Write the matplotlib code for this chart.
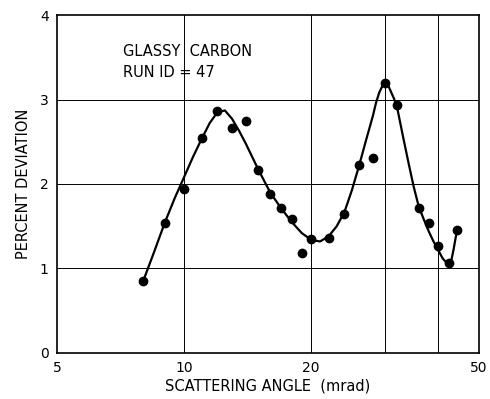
import matplotlib
matplotlib.use("Agg")
import matplotlib.pyplot as plt

# measured points
angle = [8, 9, 10, 11, 12, 13, 14, 15, 16, 17, 18, 19, 20, 22, 24, 26, 28, 30, 32, 36, 38, 40, 42.4, 44.4]
deviation = [0.85, 1.54, 1.94, 2.55, 2.86, 2.66, 2.75, 2.17, 1.88, 1.72, 1.58, 1.18, 1.35, 1.36, 1.65, 2.22, 2.31, 3.19, 2.93, 1.72, 1.54, 1.27, 1.07, 1.45]

# hand-drawn smooth curve
curve_x = [8, 8.5, 9, 9.5, 10, 10.5, 11, 11.5, 12, 12.5, 13, 13.5, 14, 15, 16, 17, 18, 19, 20, 21, 22, 23, 24, 25, 26, 27, 28, 28.5, 29, 29.5, 30, 30.5, 31, 31.5, 32, 33, 34, 35, 36, 37, 38, 39, 40, 41, 42, 42.5, 43, 43.5, 44, 44.4]
curve_y = [0.85, 1.20, 1.54, 1.83, 2.08, 2.32, 2.53, 2.72, 2.85, 2.87, 2.77, 2.63, 2.48, 2.17, 1.90, 1.71, 1.55, 1.42, 1.34, 1.32, 1.38, 1.50, 1.67, 1.93, 2.22, 2.52, 2.80, 2.96, 3.08, 3.16, 3.19, 3.16, 3.08, 3.00, 2.90, 2.57, 2.26, 1.97, 1.73, 1.58, 1.44, 1.32, 1.22, 1.12, 1.06, 1.05, 1.10, 1.22, 1.36, 1.45]

xticks = [5, 10, 20, 50]
yticks = [0, 1, 2, 3, 4]
vgrid = [10, 20, 30, 40]
hgrid = [1, 2, 3]

fig = plt.figure(figsize=(4.9, 3.99), dpi=100)
ax = fig.add_axes([0.1163, 0.1153, 0.8613, 0.8471])
ax.set_xscale("log")
ax.set_xlim(5, 50)
ax.set_ylim(0, 4)

for v in vgrid:
    ax.axvline(v, color="black", lw=0.7, zorder=1)
for h in hgrid:
    ax.axhline(h, color="black", lw=0.7, zorder=1)

ax.plot(curve_x, curve_y, color="black", lw=1.6, zorder=2)
ax.plot(angle, deviation, "o", color="black", ms=6, zorder=3)

ax.set_xticks(xticks)
ax.set_xticklabels([str(t) for t in xticks])
ax.xaxis.set_minor_locator(matplotlib.ticker.NullLocator())
ax.set_yticks(yticks)
ax.set_yticklabels([str(t) for t in yticks])
ax.tick_params(length=0, labelsize=10, pad=6)
for s in ax.spines.values():
    s.set_linewidth(1.2)

ax.set_xlabel("SCATTERING ANGLE  (mrad)", fontsize=10.5, labelpad=2)
ax.set_ylabel("PERCENT DEVIATION", fontsize=10.5, labelpad=6)

ax.text(0.156, 0.893, "GLASSY  CARBON", transform=ax.transAxes, fontsize=10.5, va="center", ha="left")
ax.text(0.156, 0.831, "RUN ID = 47", transform=ax.transAxes, fontsize=10.5, va="center", ha="left")

fig.savefig("out.png", dpi=100)
